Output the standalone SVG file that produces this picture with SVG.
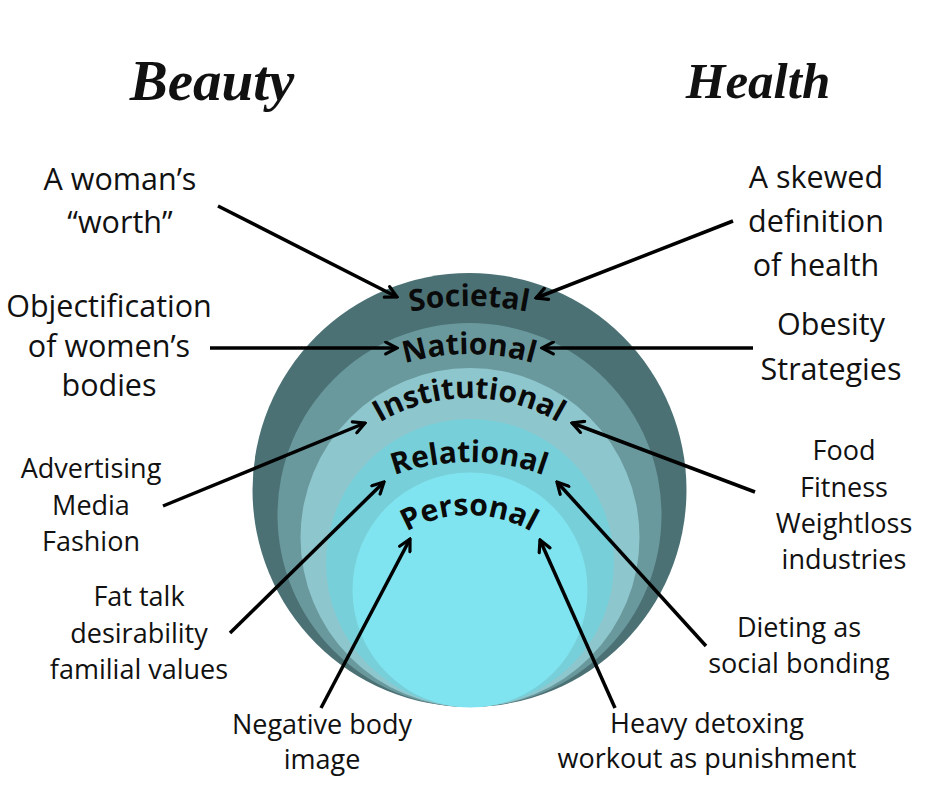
<svg xmlns="http://www.w3.org/2000/svg" width="940" height="788" viewBox="0 0 940 788">
<style>
.lbl{font-family:"Open Sans","Liberation Sans",sans-serif;font-size:27px;fill:#111;text-anchor:middle}
.big{font-size:30.5px}
.ring{font-family:"Open Sans","Liberation Sans",sans-serif;font-weight:700;font-size:30px;fill:#0a0a0a}
.title{font-family:"Liberation Serif",serif;font-style:italic;font-weight:700;fill:#111}
.arr{stroke:#000;stroke-width:3.5;fill:none;marker-end:url(#ah)}
</style>
<defs>
<marker id="ah" viewBox="0 0 14 14" refX="12.5" refY="7" markerWidth="15" markerHeight="15" markerUnits="userSpaceOnUse" orient="auto">
<path d="M2,1.5 L12.5,7 L2,12.5" fill="none" stroke="#000" stroke-width="3" stroke-linecap="round" stroke-linejoin="miter"/>
</marker>
<path id="pSoc" d="M169,606 A300,300 0 0 1 769,606"/>
<path id="pNat" d="M239,584 A230,230 0 0 1 699,584"/>
<path id="pIns" d="M294,573 A175,175 0 0 1 644,573"/>
<path id="pRel" d="M249,682 A220,220 0 0 1 689,682"/>
<path id="pPer" d="M344,640 A125,125 0 0 1 594,640"/>
</defs>
<rect width="940" height="788" fill="#fff"/>
<g id="rings">
<circle cx="469.5" cy="490" r="217" fill="#4b7175"/>
<circle cx="469.5" cy="515" r="192" fill="#6a999d"/>
<circle cx="470" cy="537.5" r="169.5" fill="#8ec6cd"/>
<circle cx="470" cy="563" r="144" fill="#77d0d9"/>
<circle cx="470" cy="590" r="117.5" fill="#80e4f0"/>
</g>
<g id="ring-labels">
<text class="ring"><textPath href="#pSoc" startOffset="50%" text-anchor="middle">Societal</textPath></text>
<text class="ring"><textPath href="#pNat" startOffset="50%" text-anchor="middle">National</textPath></text>
<text class="ring"><textPath href="#pIns" startOffset="50%" text-anchor="middle">Institutional</textPath></text>
<text class="ring"><textPath href="#pRel" startOffset="50%" text-anchor="middle">Relational</textPath></text>
<text class="ring"><textPath href="#pPer" startOffset="50%" text-anchor="middle">Personal</textPath></text>
</g>
<g id="titles">
<text class="title" x="212" y="100" font-size="57" text-anchor="middle">Beauty</text>
<text class="title" x="758" y="98" font-size="51" text-anchor="middle">Health</text>
</g>
<g id="connectors">
<line class="arr" x1="218" y1="206" x2="397" y2="297"/>
<line class="arr" x1="733" y1="221" x2="536" y2="298"/>
<line class="arr" x1="210" y1="348" x2="397" y2="348"/>
<line class="arr" x1="753" y1="348" x2="542" y2="348"/>
<line class="arr" x1="163" y1="506" x2="365" y2="423"/>
<line class="arr" x1="755" y1="492" x2="572" y2="423"/>
<line class="arr" x1="230" y1="633" x2="384" y2="482"/>
<line class="arr" x1="706" y1="646" x2="557" y2="482"/>
<line class="arr" x1="321" y1="708" x2="410" y2="539"/>
<line class="arr" x1="615" y1="708" x2="540" y2="540"/>
</g>
<g id="n-worth"><text class="lbl big" x="120" y="190">A woman’s<tspan x="120" y="233">“worth”</tspan></text></g>
<g id="n-skewed"><text class="lbl big" x="816" y="188">A skewed<tspan x="816" y="232">definition</tspan><tspan x="816" y="276">of health</tspan></text></g>
<g id="n-object"><text class="lbl big" x="109" y="317">Objectification<tspan x="109" y="357">of women’s</tspan><tspan x="109" y="396">bodies</tspan></text></g>
<g id="n-obesity"><text class="lbl big" x="831" y="335">Obesity<tspan x="831" y="380">Strategies</tspan></text></g>
<g id="n-advert"><text class="lbl" x="91" y="478">Advertising<tspan x="91" y="515">Media</tspan><tspan x="91" y="551">Fashion</tspan></text></g>
<g id="n-food"><text class="lbl" x="844" y="460">Food<tspan x="844" y="497">Fitness</tspan><tspan x="844" y="533">Weightloss</tspan><tspan x="844" y="569">industries</tspan></text></g>
<g id="n-fattalk"><text class="lbl" x="139" y="606">Fat talk<tspan x="139" y="643">desirability</tspan><tspan x="139" y="679">familial values</tspan></text></g>
<g id="n-dieting"><text class="lbl" x="799" y="637">Dieting as<tspan x="799" y="673">social bonding</tspan></text></g>
<g id="n-negative"><text class="lbl" x="322" y="734">Negative body<tspan x="322" y="769">image</tspan></text></g>
<g id="n-heavy"><text class="lbl" x="707" y="733">Heavy detoxing<tspan x="707" y="768">workout as punishment</tspan></text></g>
</svg>
